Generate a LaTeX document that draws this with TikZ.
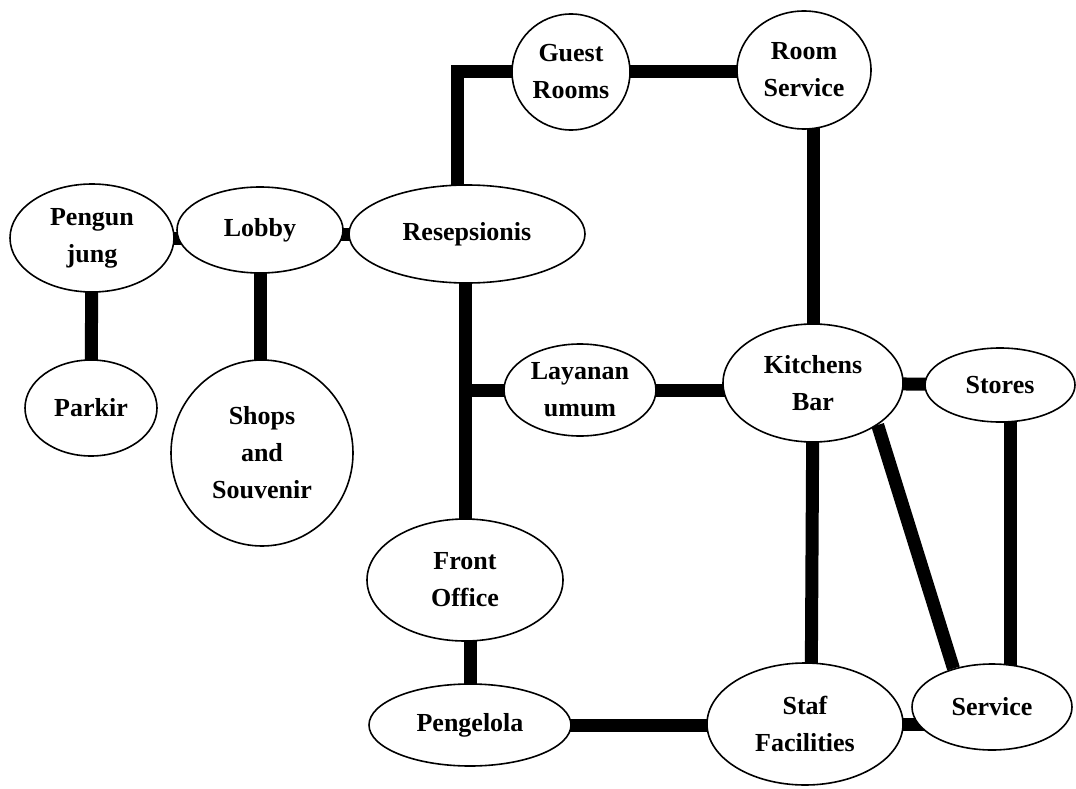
\documentclass[tikz,border=0pt]{standalone}
\usepackage{fontspec}
\setmainfont{Liberation Serif}
\usetikzlibrary{shapes.geometric,backgrounds}

\tikzset{
  room/.style={draw, ellipse, fill=white, line width=1.6pt, inner sep=0pt,
    align=center, font=\fontsize{26}{37}\selectfont\bfseries},
  link/.style={line width=13pt}
}

\begin{document}
\begin{tikzpicture}[x=1pt,y=1pt,yscale=-1,xscale=1]
\useasboundingbox (0,0) rectangle (1076,789);

% Ellipse: left group
\node[room, minimum width=164pt, minimum height=108pt] (pengunjung) at (92,238) {Pengun\\jung};
\node[room, minimum width=166pt, minimum height=86pt] (lobby) at (260,230) {Lobby};
\node[room, minimum width=236pt, minimum height=98pt] (resepsionis) at (467,234) {Resepsionis};
\node[room, minimum width=132pt, minimum height=96pt] (parkir) at (91,408) {Parkir};
\node[room, minimum width=182pt, minimum height=186pt] (shops) at (262,453) {Shops\\and\\Souvenir};

% Ellipse: top row
\node[room, minimum width=118pt, minimum height=116pt] (guest) at (571,72) {Guest\\Rooms};
\node[room, minimum width=134pt, minimum height=118pt] (roomsvc) at (804,70) {Room\\Service};

% Ellipse: middle row
\node[room, minimum width=152pt, minimum height=92pt] (layanan) at (580,390) {Layanan\\umum};
\node[room, minimum width=180pt, minimum height=118pt] (kitchens) at (813,383) {Kitchens\\Bar};
\node[room, minimum width=150pt, minimum height=74pt] (stores) at (1000,385) {Stores};

% Ellipse: bottom
\node[room, minimum width=196pt, minimum height=122pt] (frontoffice) at (465,580) {Front\\Office};
\node[room, minimum width=202pt, minimum height=82pt] (pengelola) at (470,725) {Pengelola};
\node[room, minimum width=196pt, minimum height=122pt] (staf) at (805,724) {Staf\\Facilities};
\node[room, minimum width=160pt, minimum height=86pt] (service) at (992,707) {Service};

% Thick links behind the ellipses
\begin{scope}[on background layer]
\draw[link] (pengunjung.center) -- (pengunjung.center -| lobby.center);
\draw[link] (resepsionis.center) -- (resepsionis.center -| lobby.center);
\draw[link] (pengunjung.center) -- (parkir.center);
\draw[link] (lobby.center) -- (lobby.center |- shops.center);
\draw[link] ([xshift=-10pt]resepsionis.center) |- (guest.center);
\draw[link] (guest.center) -- (guest.center -| roomsvc.center);
\draw[link] (kitchens.center) -- (kitchens.center |- roomsvc.center);
\draw[link] (frontoffice.center) -- (frontoffice.center |- resepsionis.center);
\draw[link] (frontoffice.center |- layanan.center) -- (layanan.center);
\draw[link] (layanan.center) -- (layanan.center -| kitchens.center);
\draw[link] (kitchens.center) -- (stores.center);
\draw[link] (kitchens.center) -- ([xshift=-2pt]kitchens.center |- staf.center);
\draw[link] (kitchens.-33) -- (service.135);
\draw[link] ([xshift=10pt]stores.center) -- ([xshift=18pt]service.center);
\draw[link] (pengelola.center) -- (pengelola.center |- frontoffice.center);
\draw[link] (pengelola.center) -- (pengelola.center -| staf.center);
\draw[link] (staf.center) -- (staf.center -| service.center);
\end{scope}

\end{tikzpicture}
\end{document}
